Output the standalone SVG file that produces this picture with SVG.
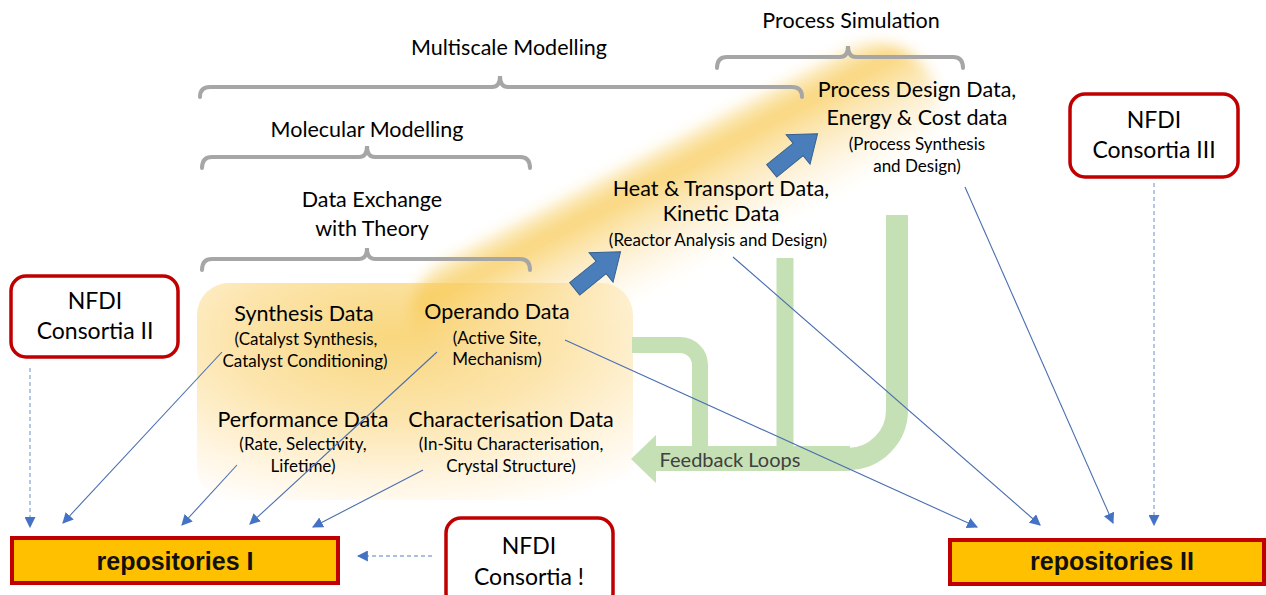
<svg xmlns="http://www.w3.org/2000/svg" width="1266" height="595" viewBox="0 0 1266 595">
  <defs>
    <style>
      .t { font-family: Lato, "Open Sans", "Liberation Sans", sans-serif; fill: #000; text-anchor: middle; }
      .h { font-size: 21.5px; }
      .s { font-size: 17px; }
      .n { font-size: 23px; }
      .brace { fill: none; stroke: #a6a6a6; stroke-width: 4; stroke-linecap: round; }
      .link { fill: none; stroke: #4a6eb0; stroke-width: 1.1; marker-end: url(#tri); }
      .dash { fill: none; stroke: #8ea9db; stroke-width: 1.3; stroke-dasharray: 4 3; marker-end: url(#tri); }
      .green { fill: none; stroke: #c5e0b4; }
      .repo { fill: #ffc000; stroke: #c00000; stroke-width: 4; }
      .nfdi { fill: #fff; stroke: #c00000; stroke-width: 3.5; }
      .repoText { font-family: "Liberation Sans", Arial, sans-serif; font-weight: bold; font-size: 25px; fill: #111; text-anchor: middle; }
      .big { fill: #4a7ebb; stroke: #35608f; stroke-width: 1; }
    </style>
    <marker id="tri" viewBox="0 0 10 10" refX="9" refY="5" markerWidth="11" markerHeight="11" markerUnits="userSpaceOnUse" orient="auto">
      <path d="M0 0 L10 5 L0 10 Z" fill="#4472c4"/>
    </marker>
    <radialGradient id="boxGrad" cx="0.45" cy="0.25" r="0.85">
      <stop offset="0" stop-color="#f9d77e"/>
      <stop offset="0.45" stop-color="#fce5ae"/>
      <stop offset="0.8" stop-color="#fff6e4"/>
      <stop offset="1" stop-color="#ffffff"/>
    </radialGradient>
    <linearGradient id="bandGrad" x1="0" y1="0" x2="0" y2="1">
      <stop offset="0" stop-color="#f8cb58" stop-opacity="0.3"/>
      <stop offset="0.2" stop-color="#f8cb58" stop-opacity="0.8"/>
      <stop offset="0.55" stop-color="#fad887" stop-opacity="0.45"/>
      <stop offset="1" stop-color="#fde9b8" stop-opacity="0"/>
    </linearGradient>
    <filter id="soft" x="-20%" y="-40%" width="140%" height="180%">
      <feGaussianBlur stdDeviation="7"/>
    </filter>
  </defs>

  <rect width="1266" height="595" fill="#fff"/>

  <!-- yellow glow: data box and diagonal band -->
  <g id="glow">
    <rect x="197" y="283" width="436" height="217" rx="32" fill="url(#boxGrad)"/>
    <g transform="translate(675,212) rotate(-27.7)">
      <rect x="-290" y="-64" width="580" height="128" rx="64" fill="url(#bandGrad)" filter="url(#soft)"/>
    </g>
  </g>

  <!-- braces and their labels -->
  <g id="braces">
    <path class="brace" d="M200 97 Q200 87 210 87 H492 Q500 87 500 76 Q500 87 508 87 H792 Q802 87 802 97"/>
    <path class="brace" d="M717 68 Q717 57 727 57 H840 Q848 57 848 46 Q848 57 856 57 H953 Q963 57 963 68"/>
    <path class="brace" d="M202 168 Q202 157 212 157 H359 Q367 157 367 146 Q367 157 375 157 H520 Q530 157 530 168"/>
    <path class="brace" d="M202 270 Q202 259 212 259 H359 Q367 259 367 248 Q367 259 375 259 H520 Q530 259 530 270"/>
    <text class="t h" x="851" y="28">Process Simulation</text>
    <text class="t h" x="509" y="55">Multiscale Modelling</text>
    <text class="t h" x="367" y="137">Molecular Modelling</text>
    <text class="t h" x="372" y="207">Data Exchange</text>
    <text class="t h" x="372" y="236">with Theory</text>
  </g>

  <!-- feedback loops -->
  <g id="feedback">
    <path class="green" stroke-width="22" d="M897 215 V410 A49 49 0 0 1 848 459 H652"/>
    <path class="green" stroke-width="25" d="M850 458.5 H652"/>
    <path class="green" stroke-width="17" d="M785 258 V450"/>
    <path class="green" stroke-width="16" d="M632 345 H680 A20 20 0 0 1 700 365 V450"/>
    <polygon points="631,459 656,435 656,483" fill="#c5e0b4"/>
    <text class="t" x="730" y="467" style="font-size:20px;fill:#404040">Feedback Loops</text>
  </g>

  <!-- step arrows along the scale band -->
  <g id="steps">
    <g transform="translate(598,270) rotate(-39)">
      <path class="big" d="M-30 -8 H4 V-19 L29 0 L4 19 V8 H-30 Z"/>
    </g>
    <g transform="translate(795,152) rotate(-39)">
      <path class="big" d="M-30 -8 H4 V-19 L29 0 L4 19 V8 H-30 Z"/>
    </g>
  </g>

  <!-- data nodes -->
  <g id="synthesis">
    <text class="t h" x="304" y="321">Synthesis Data</text>
    <text class="t s" x="306" y="345">(Catalyst Synthesis,</text>
    <text class="t s" x="305" y="367">Catalyst Conditioning)</text>
  </g>
  <g id="operando">
    <text class="t h" x="497" y="319">Operando Data</text>
    <text class="t s" x="497" y="344">(Active Site,</text>
    <text class="t s" x="497" y="365">Mechanism)</text>
  </g>
  <g id="performance">
    <text class="t h" x="303" y="427">Performance Data</text>
    <text class="t s" x="303" y="450">(Rate, Selectivity,</text>
    <text class="t s" x="303" y="472">Lifetime)</text>
  </g>
  <g id="characterisation">
    <text class="t h" x="511" y="427">Characterisation Data</text>
    <text class="t s" x="511" y="450">(In-Situ Characterisation,</text>
    <text class="t s" x="511" y="472">Crystal Structure)</text>
  </g>
  <g id="reactor">
    <text class="t h" x="721" y="196">Heat &amp; Transport Data,</text>
    <text class="t h" x="721" y="221">Kinetic Data</text>
    <text class="t s" x="718" y="246">(Reactor Analysis and Design)</text>
  </g>
  <g id="process">
    <text class="t h" x="917" y="97">Process Design Data,</text>
    <text class="t h" x="917" y="125">Energy &amp; Cost data</text>
    <text class="t s" x="917" y="150">(Process Synthesis</text>
    <text class="t s" x="917" y="172">and Design)</text>
  </g>

  <!-- NFDI consortia -->
  <g id="nfdi-2">
    <rect class="nfdi" x="11" y="276" width="167" height="81" rx="15"/>
    <text class="t n" x="95" y="309">NFDI</text>
    <text class="t n" x="95" y="339">Consortia II</text>
  </g>
  <g id="nfdi-3">
    <rect class="nfdi" x="1070" y="94" width="168" height="83" rx="15"/>
    <text class="t n" x="1154" y="128">NFDI</text>
    <text class="t n" x="1154" y="158">Consortia III</text>
  </g>
  <g id="nfdi-1">
    <rect class="nfdi" x="446" y="518" width="167" height="90" rx="15"/>
    <text class="t n" x="529" y="554">NFDI</text>
    <text class="t n" x="529" y="585">Consortia !</text>
  </g>

  <!-- repositories -->
  <g id="repositories-1">
    <rect class="repo" x="12" y="538" width="326" height="45"/>
    <text class="repoText" x="175" y="570">repositories I</text>
  </g>
  <g id="repositories-2">
    <rect class="repo" x="950" y="540" width="314" height="44"/>
    <text class="repoText" x="1112" y="570">repositories II</text>
  </g>

  <!-- connectors -->
  <g id="connectors">
    <path class="link" d="M222 352 L63 523"/>
    <path class="link" d="M437 352 L250 524"/>
    <path class="link" d="M237 465 L182 525"/>
    <path class="link" d="M423 470 L313 527"/>
    <path class="link" d="M565 340 L977 527"/>
    <path class="link" d="M733 257 L1040 525"/>
    <path class="link" d="M965 187 L1113 523"/>
    <path class="dash" d="M30 368 V527"/>
    <path class="dash" d="M1154 183 V525"/>
    <path class="dash" d="M432 556 H358"/>
  </g>
</svg>
